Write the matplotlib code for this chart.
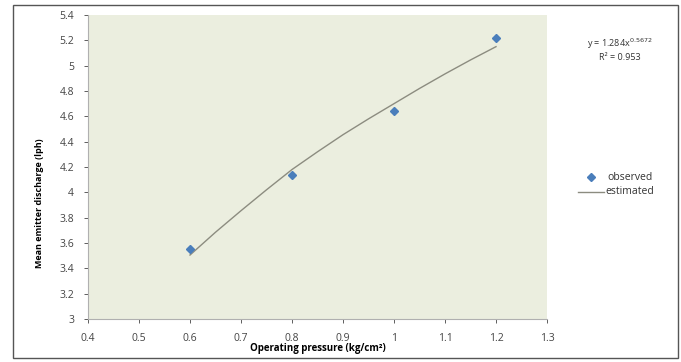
import matplotlib.pyplot as plt
from matplotlib.patches import Rectangle
from matplotlib.lines import Line2D

# observed data
pressure = [0.6, 0.8, 1.0, 1.2]
discharge = [3.55, 4.14, 4.64, 5.22]

# estimated (fitted) curve
est_x = [0.6, 0.65, 0.7, 0.75, 0.8, 0.85, 0.9, 0.95, 1.0, 1.05, 1.1, 1.15, 1.2]
est_y = [3.505, 3.685, 3.855, 4.02, 4.18, 4.32, 4.455, 4.58, 4.70, 4.82, 4.935, 5.045, 5.15]

xticks = [0.4, 0.5, 0.6, 0.7, 0.8, 0.9, 1.0, 1.1, 1.2, 1.3]
xlabels = ['0.4', '0.5', '0.6', '0.7', '0.8', '0.9', '1', '1.1', '1.2', '1.3']
yticks = [3, 3.2, 3.4, 3.6, 3.8, 4, 4.2, 4.4, 4.6, 4.8, 5, 5.2, 5.4]
ylabels = ['3', '3.2', '3.4', '3.6', '3.8', '4', '4.2', '4.4', '4.6', '4.8', '5', '5.2', '5.4']

plt.rcParams['font.family'] = ['Open Sans', 'DejaVu Sans']

fig = plt.figure(figsize=(6.81, 3.62), dpi=100)
ax = fig.add_axes([88/681, 1-319/362, 459/681, 304/362])
ax.set_facecolor('#ebeedf')

ax.plot(est_x, est_y, color='#8c8c80', lw=1.0, zorder=2)
ax.plot(pressure, discharge, linestyle='none', marker='D', color='#4a7ebb',
        markersize=4.5, zorder=3)

ax.set_xlim(0.4, 1.3)
ax.set_ylim(3, 5.4)
ax.set_xticks(xticks)
ax.set_xticklabels(xlabels)
ax.set_yticks(yticks)
ax.set_yticklabels(ylabels)
ax.tick_params(labelsize=7.5, colors='#444444', length=3, width=0.6, pad=7)
for s in ['top', 'right']:
    ax.spines[s].set_visible(False)
for s in ['left', 'bottom']:
    ax.spines[s].set_color('#b0b0b0')
    ax.spines[s].set_linewidth(0.8)

fig.text(318/681, 1-348/362, 'Operating pressure (kg/cm²)', fontsize=7, fontweight='bold',
         ha='center', va='center')
fig.text(40/681, 1-203/362, 'Mean emitter discharge (lph)', rotation=90,
         fontsize=6.5, fontweight='bold', stretch='condensed', ha='center', va='center')

# trendline equation
fig.text(620/681, 1-44/362, 'y = 1.284x$^{0.5672}$', fontsize=6.5, ha='center', va='center',
         color='#333333')
fig.text(620/681, 1-58/362, 'R² = 0.953', fontsize=6.5, ha='center', va='center',
         color='#333333')

# legend drawn by hand in figure coords
fig.add_artist(Line2D([591/681], [1-177/362], marker='D', color='#4a7ebb', markersize=4,
                      linestyle='none', transform=fig.transFigure))
fig.text(607/681, 1-177/362, 'observed', fontsize=7.5, va='center', color='#333333')
fig.add_artist(Line2D([578/681, 604/681], [1-192/362, 1-192/362], color='#8c8c80', lw=1.0,
                      transform=fig.transFigure))
fig.text(605/681, 1-192/362, 'estimated', fontsize=7.5, va='center', color='#333333')

# outer chart border
fig.add_artist(Rectangle((13/681, 4/362), 665/681, 353/362, fill=False,
                         edgecolor='#555555', lw=1.0, transform=fig.transFigure))

fig.savefig('out.png', dpi=100)
